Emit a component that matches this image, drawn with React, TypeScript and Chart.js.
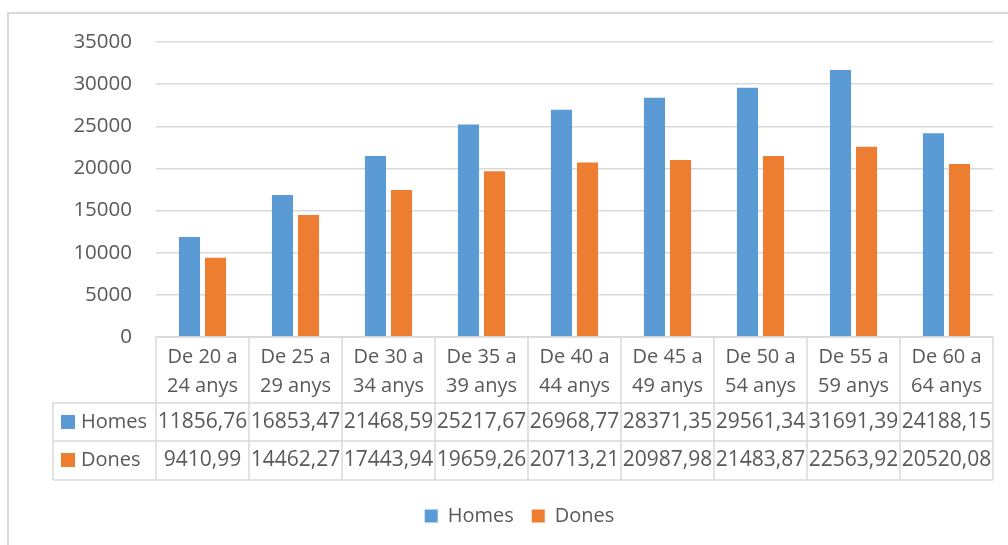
import React, { useEffect, useRef } from "react";
import { Chart, registerables } from "chart.js";

Chart.register(...registerables);

const categories: string[][] = [
  ["De 20 a", "24 anys"],
  ["De 25 a", "29 anys"],
  ["De 30 a", "34 anys"],
  ["De 35 a", "39 anys"],
  ["De 40 a", "44 anys"],
  ["De 45 a", "49 anys"],
  ["De 50 a", "54 anys"],
  ["De 55 a", "59 anys"],
  ["De 60 a", "64 anys"],
];
const homes = [11856.76, 16853.47, 21468.59, 25217.67, 26968.77, 28371.35, 29561.34, 31691.39, 24188.15];
const dones = [9410.99, 14462.27, 17443.94, 19659.26, 20713.21, 20987.98, 21483.87, 22563.92, 20520.08];
const seriesNames = ["Homes", "Dones"];
const seriesColors = ["#5B9BD5", "#ED7D31"];

const FONT = "'Open Sans', sans-serif";
const TEXT = "#595959";
const LINE = "#d9d9d9";

const fmt = (v: number) => v.toFixed(2).replace(".", ",");

const tablePlugin = {
  id: "dataTable",
  afterDraw(chart: any) {
    const { ctx, chartArea } = chart;
    const xs = chart.scales.x;
    const n = categories.length;
    const cw = (chartArea.right - chartArea.left) / n;
    const top = chartArea.bottom;
    const hdrB = top + 66;
    const r1B = hdrB + 38;
    const r2B = r1B + 39;
    const legL = 53;
    ctx.save();
    ctx.strokeStyle = LINE;
    ctx.lineWidth = 1.5;
    ctx.beginPath();
    ctx.moveTo(chartArea.left, top);
    ctx.lineTo(chartArea.right, top);
    [hdrB, r1B, r2B].forEach((y) => {
      ctx.moveTo(legL, y);
      ctx.lineTo(chartArea.right, y);
    });
    for (let i = 0; i <= n; i++) {
      const x = chartArea.left + i * cw;
      ctx.moveTo(x, top);
      ctx.lineTo(x, r2B);
    }
    ctx.moveTo(legL, hdrB);
    ctx.lineTo(legL, r2B);
    ctx.stroke();

    ctx.fillStyle = TEXT;
    ctx.textAlign = "center";
    ctx.textBaseline = "middle";
    for (let i = 0; i < n; i++) {
      const cx = xs.getPixelForValue(i);
      ctx.font = `20px ${FONT}`;
      ctx.fillText(categories[i][0], cx, top + 20);
      ctx.fillText(categories[i][1], cx, top + 49);
      ctx.font = `21px ${FONT}`;
      ctx.fillText(fmt(homes[i]), cx, hdrB + 19);
      ctx.fillText(fmt(dones[i]), cx, r1B + 19);
    }
    const rows = [
      { y: hdrB + 19, name: seriesNames[0], color: seriesColors[0] },
      { y: r1B + 19, name: seriesNames[1], color: seriesColors[1] },
    ];
    ctx.textAlign = "left";
    ctx.font = `20px ${FONT}`;
    rows.forEach((r) => {
      ctx.fillStyle = r.color;
      ctx.fillRect(61, r.y - 7, 14, 14);
      ctx.fillStyle = TEXT;
      ctx.fillText(r.name, 81, r.y);
    });
    ctx.restore();
  },
};

const PAD_LEFT = 46;

export default function App() {
  const ref = useRef<HTMLCanvasElement>(null);
  useEffect(() => {
    if (!ref.current) return;
    const chart = new Chart(ref.current, {
      type: "bar",
      data: {
        labels: categories,
        datasets: [
          {
            label: seriesNames[0],
            data: homes,
            backgroundColor: seriesColors[0],
            categoryPercentage: 0.56,
            barPercentage: 0.81,
          },
          {
            label: seriesNames[1],
            data: dones,
            backgroundColor: seriesColors[1],
            categoryPercentage: 0.56,
            barPercentage: 0.81,
          },
        ],
      },
      options: {
        animation: false,
        responsive: false,
        devicePixelRatio: 1,
        layout: { padding: { top: 42, right: 15, bottom: 9, left: PAD_LEFT } },
        plugins: {
          legend: {
            position: "bottom",
            labels: {
              boxWidth: 13,
              boxHeight: 13,
              padding: 18,
              color: TEXT,
              font: { family: FONT, size: 20 },
            },
          },
          tooltip: { enabled: false },
        },
        scales: {
          x: {
            display: true,
            grid: { display: false },
            border: { display: false },
            ticks: { display: false },
            afterFit: (s: any) => {
              s.height = 151;
            },
          },
          y: {
            min: 0,
            max: 35000,
            border: { display: false },
            grid: { color: LINE, lineWidth: 1.5, drawTicks: false },
            ticks: {
              stepSize: 5000,
              padding: 24,
              color: TEXT,
              font: { family: FONT, size: 20.5 },
              callback: (v: any) => String(v),
            },
            afterFit: (s: any) => {
              s.width = 156 - PAD_LEFT;
            },
          },
        },
      },
      plugins: [tablePlugin],
    });
    return () => chart.destroy();
  }, []);

  return (
    <div
      style={{
        position: "fixed",
        left: 0,
        top: 0,
        width: 1008,
        height: 545,
        overflow: "hidden",
        background: "#fff",
      }}
    >
      <div
        style={{
          position: "absolute",
          left: 7,
          top: 12,
          width: 1200,
          height: 800,
          borderLeft: `2px solid ${LINE}`,
          borderTop: `2px solid ${LINE}`,
        }}
      />
      <canvas
        ref={ref}
        width={1008}
        height={545}
        style={{ position: "absolute", left: 0, top: 0, width: 1008, height: 545 }}
      />
    </div>
  );
}
